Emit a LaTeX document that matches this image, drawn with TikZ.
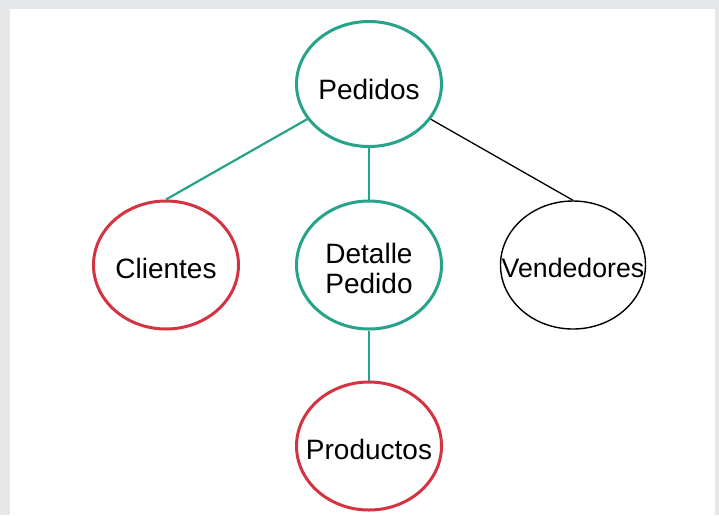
\documentclass[tikz,border=0pt]{standalone}
\usepackage{fontspec}
\setmainfont{Liberation Sans}
\usetikzlibrary{shapes.geometric}
\definecolor{teal1}{RGB}{38,163,136}
\definecolor{red1}{RGB}{212,52,66}
\definecolor{bgray}{RGB}{230,231,233}
\tikzset{
  ent/.style={ellipse, draw, line width=3pt, minimum width=145pt, minimum height=128pt, inner sep=0pt, fill=white},
  tealent/.style={ent, draw=teal1},
  redent/.style={ent, draw=red1},
  blackent/.style={ent, draw=black, line width=1.4pt},
  lbl/.style={inner sep=0pt, align=center, font=\fontsize{28}{30}\selectfont},
  tline/.style={draw=teal1, line width=2.2pt},
  bline/.style={draw=black, line width=1.3pt}
}
\begin{document}
\begin{tikzpicture}[x=1pt,y=1pt]
\fill[bgray] (0,0) rectangle (719,-515);
\fill[white] (10,-9) rectangle (715,-515);
\node[tealent, minimum height=125pt] (ped) at (369,-84) {};
\node[redent] (cli) at (166,-265) {};
\node[tealent] (det) at (369,-265) {};
\node[blackent] (ven) at (573,-265) {};
\node[redent] (pro) at (369,-446) {};
\node[lbl] (pedt) at ([yshift=-5pt]ped.center) {Pedidos};
\node[lbl] (clit) at ([yshift=-3pt]cli.center) {Clientes};
\node[lbl] (dett) at ([yshift=-3pt]det.center) {Detalle\\Pedido};
\node[lbl, font=\fontsize{26.7}{30}\selectfont] (vent) at ([yshift=-3pt]ven.center) {Vendedores};
\node[lbl] (prot) at ([yshift=-3pt]pro.center) {Productos};
\draw[tline] (ped) -- (cli.north);
\draw[tline] (ped) -- (det);
\draw[bline] (ped) -- (ven.north);
\draw[tline] (det) -- (pro);
\end{tikzpicture}
\end{document}
